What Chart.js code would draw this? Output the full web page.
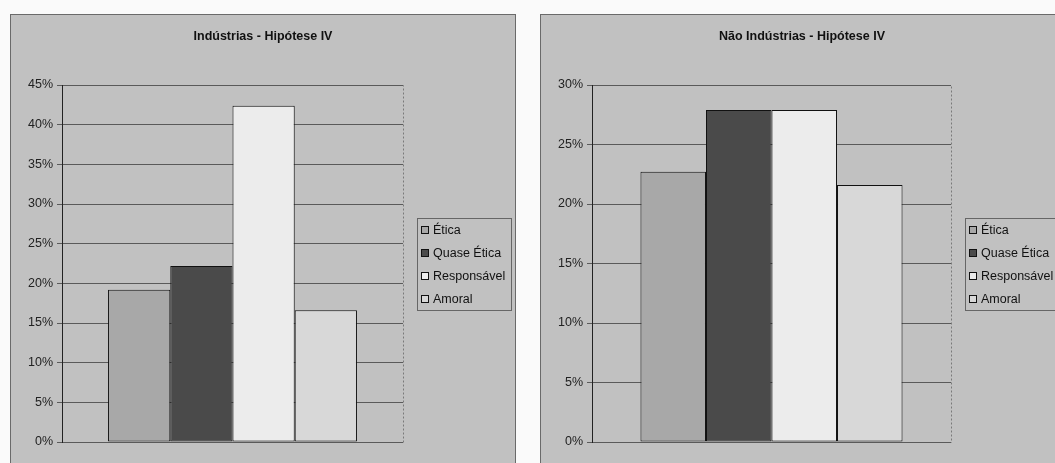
<!DOCTYPE html>
<html lang="pt">
<head>
    <meta charset="UTF-8">
    <title>Hipótese IV</title>
    <script src="https://cdn.jsdelivr.net/npm/chart.js"></script>
    <style>
        html, body {
            margin: 0;
            padding: 0;
            background: #fafafa;
            width: 1055px;
            height: 463px;
            overflow: hidden;
        }
        .box {
            position: absolute;
            top: 14px;
            height: 449px;
        }
        #boxA { left: 10px; width: 506px; }
        #boxB { left: 540px; width: 524px; }
    </style>
</head>
<body>
    <div class="box" id="boxA"><canvas id="chartA"></canvas></div>
    <div class="box" id="boxB"><canvas id="chartB"></canvas></div>

    <script>
        // dados (em %)
        const categorias = ['Ética', 'Quase Ética', 'Responsável', 'Amoral'];
        const industrias = [19.2, 22.2, 42.4, 16.6];
        const naoIndustrias = [22.7, 27.9, 27.9, 21.6];
        const ticksIndustrias = [0, 5, 10, 15, 20, 25, 30, 35, 40, 45];
        const ticksNaoIndustrias = [0, 5, 10, 15, 20, 25, 30];

        const cores = ['#a8a8a8', '#4a4a4a', '#ececec', '#d8d8d8'];
        const fonte = "'Liberation Sans', Arial, sans-serif";

        // fundo cinza, moldura, título, borda da área e legenda em caixa
        const molduraPlugin = {
            id: 'moldura',
            beforeDraw(chart, args, opts) {
                const c = chart.ctx;
                c.save();
                c.fillStyle = '#c1c1c1';
                c.fillRect(0, 0, chart.width, chart.height);
                c.strokeStyle = '#6a6a6a';
                c.lineWidth = 1;
                c.strokeRect(0.5, 0.5, chart.width - 1, chart.height + 5);
                c.fillStyle = '#111';
                c.font = 'bold 12.5px ' + fonte;
                c.textAlign = 'center';
                c.textBaseline = 'middle';
                c.fillText(opts.titulo, chart.width / 2, 23);
                const a = chart.chartArea;
                c.setLineDash([2, 2]);
                c.strokeStyle = '#7a7a7a';
                c.strokeRect(a.left + 0.5, a.top + 0.5, a.right - a.left, a.bottom - a.top);
                c.restore();
            },
            afterDraw(chart) {
                const a = chart.chartArea;
                const c = chart.ctx;
                const n = chart.data.datasets.length;
                const passo = 23;
                const alt = passo * n;
                const x = Math.round(a.right + 14);
                const y = Math.round((a.top + a.bottom) / 2 - alt / 2);
                c.save();
                c.strokeStyle = '#666';
                c.lineWidth = 1;
                c.strokeRect(x + 0.5, y + 0.5, 94, alt);
                c.font = '12.5px ' + fonte;
                c.textBaseline = 'middle';
                chart.data.datasets.forEach((ds, i) => {
                    const yc = y + passo / 2 + i * passo;
                    c.fillStyle = ds.backgroundColor;
                    c.fillRect(x + 4, Math.round(yc - 4), 8, 8);
                    c.strokeStyle = '#111';
                    c.strokeRect(x + 4.5, Math.round(yc - 4) + 0.5, 7, 7);
                    c.fillStyle = '#111';
                    c.fillText(ds.label, x + 16, yc + 1);
                });
                c.restore();
            }
        };

        function criarGrafico(id, titulo, valores, ticks) {
            const ctx = document.getElementById(id).getContext('2d');
            return new Chart(ctx, {
                type: 'bar',
                data: {
                    labels: [''],
                    datasets: categorias.map((nome, i) => ({
                        label: nome,
                        data: [valores[i]],
                        backgroundColor: cores[i],
                        borderColor: '#111',
                        borderWidth: 1,
                        borderSkipped: false,
                        categoryPercentage: 0.73,
                        barPercentage: 1.0
                    }))
                },
                options: {
                    responsive: true,
                    maintainAspectRatio: false,
                    animation: false,
                    layout: { padding: { left: 16, right: 113, bottom: 21, top: 71 } },
                    plugins: {
                        moldura: { titulo: titulo },
                        title: { display: false },
                        legend: { display: false },
                        tooltip: { enabled: false }
                    },
                    scales: {
                        x: { display: false },
                        y: {
                            min: ticks[0],
                            max: ticks[ticks.length - 1],
                            afterFit: s => { s.width = 36; },
                            afterBuildTicks: s => { s.ticks = ticks.map(v => ({ value: v })); },
                            ticks: {
                                color: '#222',
                                font: { family: fonte, size: 12.5 },
                                padding: 4,
                                callback: v => v + '%'
                            },
                            grid: { color: '#5a5a5a', tickLength: 5 },
                            border: { color: '#222', width: 1 }
                        }
                    }
                },
                plugins: [molduraPlugin]
            });
        }

        criarGrafico('chartA', 'Indústrias - Hipótese IV', industrias, ticksIndustrias);
        criarGrafico('chartB', 'Não Indústrias - Hipótese IV', naoIndustrias, ticksNaoIndustrias);
    </script>
</body>
</html>
